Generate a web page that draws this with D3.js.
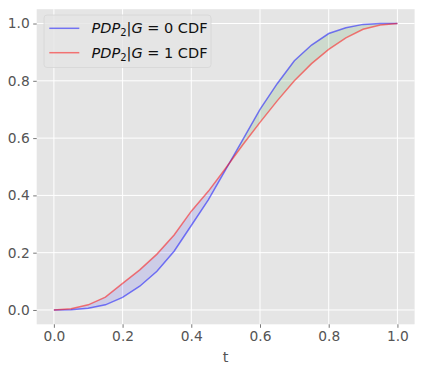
<!DOCTYPE html>
<html><head><meta charset="utf-8">
<script src="https://cdn.jsdelivr.net/npm/d3@7"></script>
<style>
body{margin:0;background:#fff;}
text{font-family:"DejaVu Sans",sans-serif;}
</style></head>
<body><svg id="c" width="423" height="370"></svg>
<script>
const tValues = [0,0.05,0.1,0.15,0.2,0.25,0.3,0.35,0.4,0.45,0.5,0.55,0.6,0.65,0.7,0.75,0.8,0.85,0.9,0.95,1.0];
const cdfG0 = [0,0.001,0.006,0.018,0.044,0.083,0.135,0.205,0.295,0.385,0.49,0.595,0.70,0.79,0.87,0.925,0.965,0.985,0.997,1.0,1.0];
const cdfG1 = [0,0.004,0.018,0.045,0.093,0.14,0.195,0.262,0.345,0.415,0.495,0.577,0.655,0.73,0.80,0.86,0.91,0.95,0.98,0.995,1.0];
const xTicks = [0,0.2,0.4,0.6,0.8,1.0];
const yTicks = [0,0.2,0.4,0.6,0.8,1.0];
const seriesLabels = ["0","1"];

const svg = d3.select("#c");
const L=36.7,R=414.6,T=9.2,B=324.3;
const x = d3.scaleLinear().domain([-0.05,1.05]).range([L,R]);
const y = d3.scaleLinear().domain([-0.05,1.05]).range([B,T]);

svg.append("rect").attr("x",L).attr("y",T).attr("width",R-L).attr("height",B-T).attr("fill","#E5E5E5");
svg.append("g").selectAll("line").data(xTicks).join("line")
 .attr("x1",d=>x(d)).attr("x2",d=>x(d)).attr("y1",T).attr("y2",B).attr("stroke","#fff").attr("stroke-width",1);
svg.append("g").selectAll("line").data(yTicks).join("line")
 .attr("y1",d=>y(d)).attr("y2",d=>y(d)).attr("x1",L).attr("x2",R).attr("stroke","#fff").attr("stroke-width",1);

const pts=[];
for(let i=0;i<tValues.length;i++){
  pts.push({t:tValues[i],a:cdfG0[i],b:cdfG1[i]});
  if(i<tValues.length-1){
    const d0=cdfG0[i]-cdfG1[i], d1=cdfG0[i+1]-cdfG1[i+1];
    if(d0*d1<0){
      const f=d0/(d0-d1);
      const tc=tValues[i]+f*(tValues[i+1]-tValues[i]);
      const vc=cdfG0[i]+f*(cdfG0[i+1]-cdfG0[i]);
      pts.push({t:tc,a:vc,b:vc});
    }
  }
}
const areaLow = d3.area().x(d=>x(d.t)).y0(d=>y(d.a)).y1(d=>y(Math.max(d.a,d.b)));
const areaHigh = d3.area().x(d=>x(d.t)).y0(d=>y(d.b)).y1(d=>y(Math.max(d.a,d.b)));
svg.append("path").datum(pts).attr("d",areaLow).attr("fill","blue").attr("fill-opacity",0.1);
svg.append("path").datum(pts).attr("d",areaHigh).attr("fill","green").attr("fill-opacity",0.1);

const line0 = d3.line().x((d,i)=>x(tValues[i])).y(d=>y(d));
svg.append("path").datum(cdfG0).attr("d",line0).attr("fill","none").attr("stroke","blue").attr("stroke-opacity",0.5).attr("stroke-width",1.5);
svg.append("path").datum(cdfG1).attr("d",line0).attr("fill","none").attr("stroke","red").attr("stroke-opacity",0.5).attr("stroke-width",1.5);

const fmt=d3.format(".1f");
const xa = svg.append("g").attr("transform",`translate(0,${B})`)
 .call(d3.axisBottom(x).tickValues(xTicks).tickFormat(fmt).tickSize(3.5).tickPadding(3.5));
const ya = svg.append("g").attr("transform",`translate(${L},0)`)
 .call(d3.axisLeft(y).tickValues(yTicks).tickFormat(fmt).tickSize(3.5).tickPadding(3.5));
[xa,ya].forEach(g=>{
  g.select(".domain").remove();
  g.selectAll("line").attr("stroke","#555").attr("stroke-width",0.8);
  g.selectAll("text").attr("fill","#555").style("font-size","13.8px").style("font-family","DejaVu Sans");
});
svg.append("text").attr("x",(L+R)/2).attr("y",362).attr("text-anchor","middle")
 .attr("fill","#555").style("font-size","14.5px").text("t");

const lg = svg.append("g");
lg.append("rect").attr("x",44).attr("y",15).attr("width",167).attr("height",52.5).attr("rx",3)
 .attr("fill","#E5E5E5").attr("fill-opacity",0.8).attr("stroke","#d5d5d5").attr("stroke-width",0.8);
const colors=["blue","red"];
seriesLabels.forEach((g,i)=>{
  const yy=28.3+i*24.4;
  lg.append("line").attr("x1",49.3).attr("x2",79.3).attr("y1",yy).attr("y2",yy)
   .attr("stroke",colors[i]).attr("stroke-opacity",0.5).attr("stroke-width",1.5);
  const tx=lg.append("text").attr("x",91.5).attr("y",yy+5).attr("fill","#111").style("font-size","14.5px");
  tx.append("tspan").style("font-style","italic").text("PDP");
  tx.append("tspan").attr("dy",3).style("font-size","10px").text("2");
  tx.append("tspan").attr("dy",-3).text("|");
  tx.append("tspan").style("font-style","italic").text("G");
  tx.append("tspan").text(" = "+g+" CDF");
});
</script></body></html>
